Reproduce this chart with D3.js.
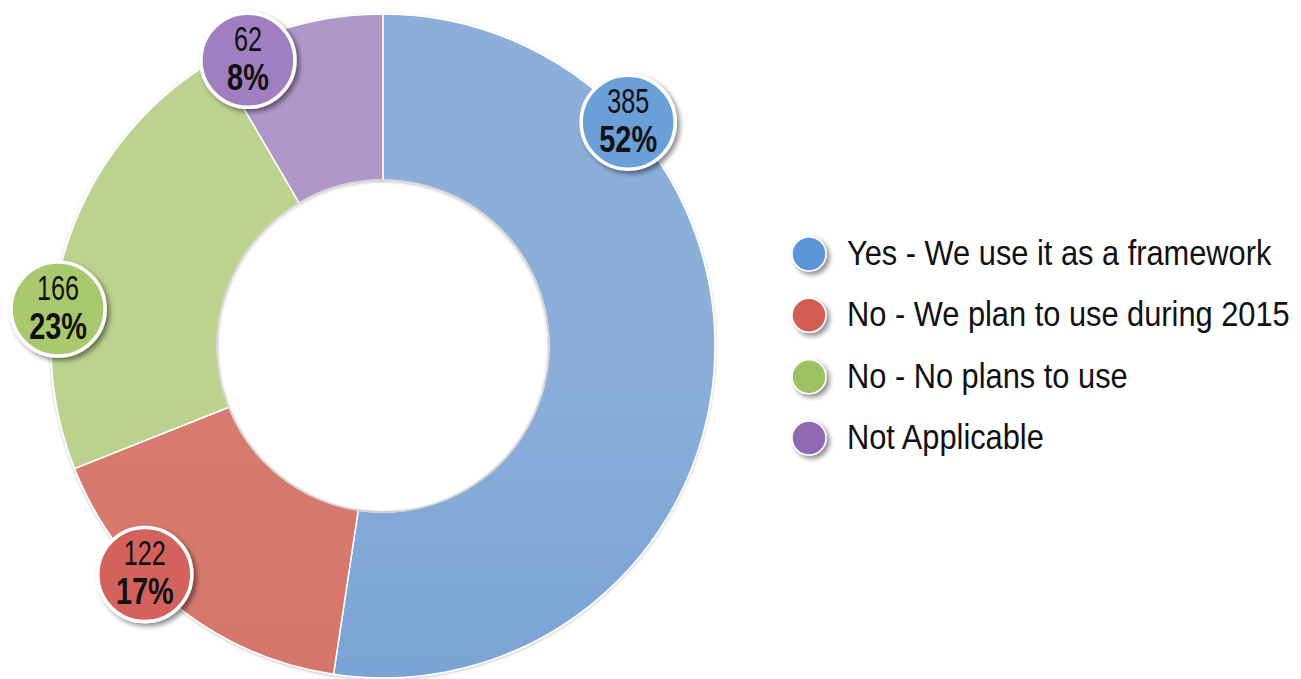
<!DOCTYPE html>
<html>
<head>
<meta charset="utf-8">
<script src="https://cdn.jsdelivr.net/npm/d3@7"></script>
<style>
  html, body { margin: 0; padding: 0; background: #ffffff; }
  svg { display: block; }
</style>
</head>
<body>
<svg id="chart" width="1301" height="679"></svg>
<script>
// ---- data ----
const categories = [
  "Yes - We use it as a framework",
  "No - We plan to use during 2015",
  "No - No plans to use",
  "Not Applicable"
];
const counts = [385, 122, 166, 62];

// ---- styling / layout ----
const sliceTop    = ["#8cafda", "#d87c70", "#bcd38f", "#ae98c8"];
const sliceBottom = ["#6597ce", "#d26f64", "#b2cc82", "#a48dc1"];
const badgeFill   = ["#6a9fd8", "#d3625b", "#a8c96e", "#9f7fbf"];
const legendFill  = ["#5b96d6", "#d35b55", "#9dc262", "#8f6bb4"];
const labelAngleDeg = [47.6, 226.2, 276.5, 334.7];
const labelRadius   = [332, 330, 327, 316];

const W = 1301, H = 679;
const cx = 383, cy = 346, rOuter = 332, rInner = 166;
const FONT = "'Liberation Sans',Arial,Helvetica,sans-serif";

const svg = d3.select("#chart");
const defs = svg.append("defs");

// gradients
categories.forEach((c, i) => {
  const g = defs.append("linearGradient")
    .attr("id", "grad" + i)
    .attr("gradientUnits", "userSpaceOnUse")
    .attr("x1", 0).attr("y1", cy - rOuter).attr("x2", 0).attr("y2", cy + rOuter);
  g.append("stop").attr("offset", "0%").attr("stop-color", sliceTop[i]);
  g.append("stop").attr("offset", "100%").attr("stop-color", sliceBottom[i]);
});

// shadows
const sh = defs.append("filter").attr("id", "shadow")
  .attr("x", "-30%").attr("y", "-30%").attr("width", "160%").attr("height", "160%");
sh.append("feDropShadow").attr("dx", 3).attr("dy", 3).attr("stdDeviation", 2.5)
  .attr("flood-color", "#000").attr("flood-opacity", 0.45);

const sh2 = defs.append("filter").attr("id", "softshadow")
  .attr("x", "-10%").attr("y", "-10%").attr("width", "120%").attr("height", "120%");
sh2.append("feDropShadow").attr("dx", 0).attr("dy", 1).attr("stdDeviation", 1.5)
  .attr("flood-color", "#000").attr("flood-opacity", 0.25);

const total = d3.sum(counts);
const data = categories.map((c, i) => ({ cat: c, value: counts[i], i }));

const pie = d3.pie().sort(null).value(d => d.value).startAngle(0).endAngle(2 * Math.PI);
const arc = d3.arc().innerRadius(rInner).outerRadius(rOuter);

const g = svg.append("g").attr("transform", `translate(${cx},${cy})`);

g.append("g").attr("filter", "url(#softshadow)")
  .selectAll("path")
  .data(pie(data))
  .join("path")
  .attr("d", arc)
  .attr("fill", d => `url(#grad${d.data.i})`)
  .attr("stroke", "#ffffff")
  .attr("stroke-width", 1.5);

// inner rim shading
g.append("circle").attr("r", rInner).attr("fill", "none")
  .attr("stroke", "#d0cfcf").attr("stroke-width", 1.5);

// value badges
const angleScale = d3.scaleLinear().domain([0, 360]).range([0, 2 * Math.PI]);
const badges = g.selectAll("g.badge")
  .data(data)
  .join("g")
  .attr("class", "badge")
  .attr("transform", d => {
    const a = angleScale(labelAngleDeg[d.i]);
    const r = labelRadius[d.i];
    return `translate(${r * Math.sin(a)},${-r * Math.cos(a)})`;
  });

badges.append("circle")
  .attr("r", 47)
  .attr("fill", d => badgeFill[d.i])
  .attr("stroke", "#ffffff")
  .attr("stroke-width", 3.5)
  .attr("filter", "url(#shadow)");

badges.append("text")
  .attr("text-anchor", "middle")
  .attr("transform", "translate(0,-9) scale(0.72,1)")
  .attr("font-family", FONT)
  .attr("font-size", 35)
  .attr("fill", "#111")
  .text(d => d.value);

badges.append("text")
  .attr("text-anchor", "middle")
  .attr("transform", "translate(0,30) scale(0.78,1)")
  .attr("font-family", FONT)
  .attr("font-size", 37)
  .attr("font-weight", "bold")
  .attr("fill", "#111")
  .text(d => Math.round(d.value / total * 100) + "%");

// legend
const legendY = d3.scalePoint().domain(categories).range([254, 438]);
const legend = svg.append("g").selectAll("g")
  .data(data)
  .join("g")
  .attr("transform", d => `translate(809,${legendY(d.cat)})`);

legend.append("circle")
  .attr("r", 17)
  .attr("fill", d => legendFill[d.i])
  .attr("stroke", "#ffffff")
  .attr("stroke-width", 1.5)
  .attr("filter", "url(#shadow)");

legend.append("text")
  .attr("transform", "translate(38,11) scale(0.88,1)")
  .attr("font-family", FONT)
  .attr("font-size", 35)
  .attr("fill", "#111")
  .text(d => d.cat);
</script>
</body>
</html>
